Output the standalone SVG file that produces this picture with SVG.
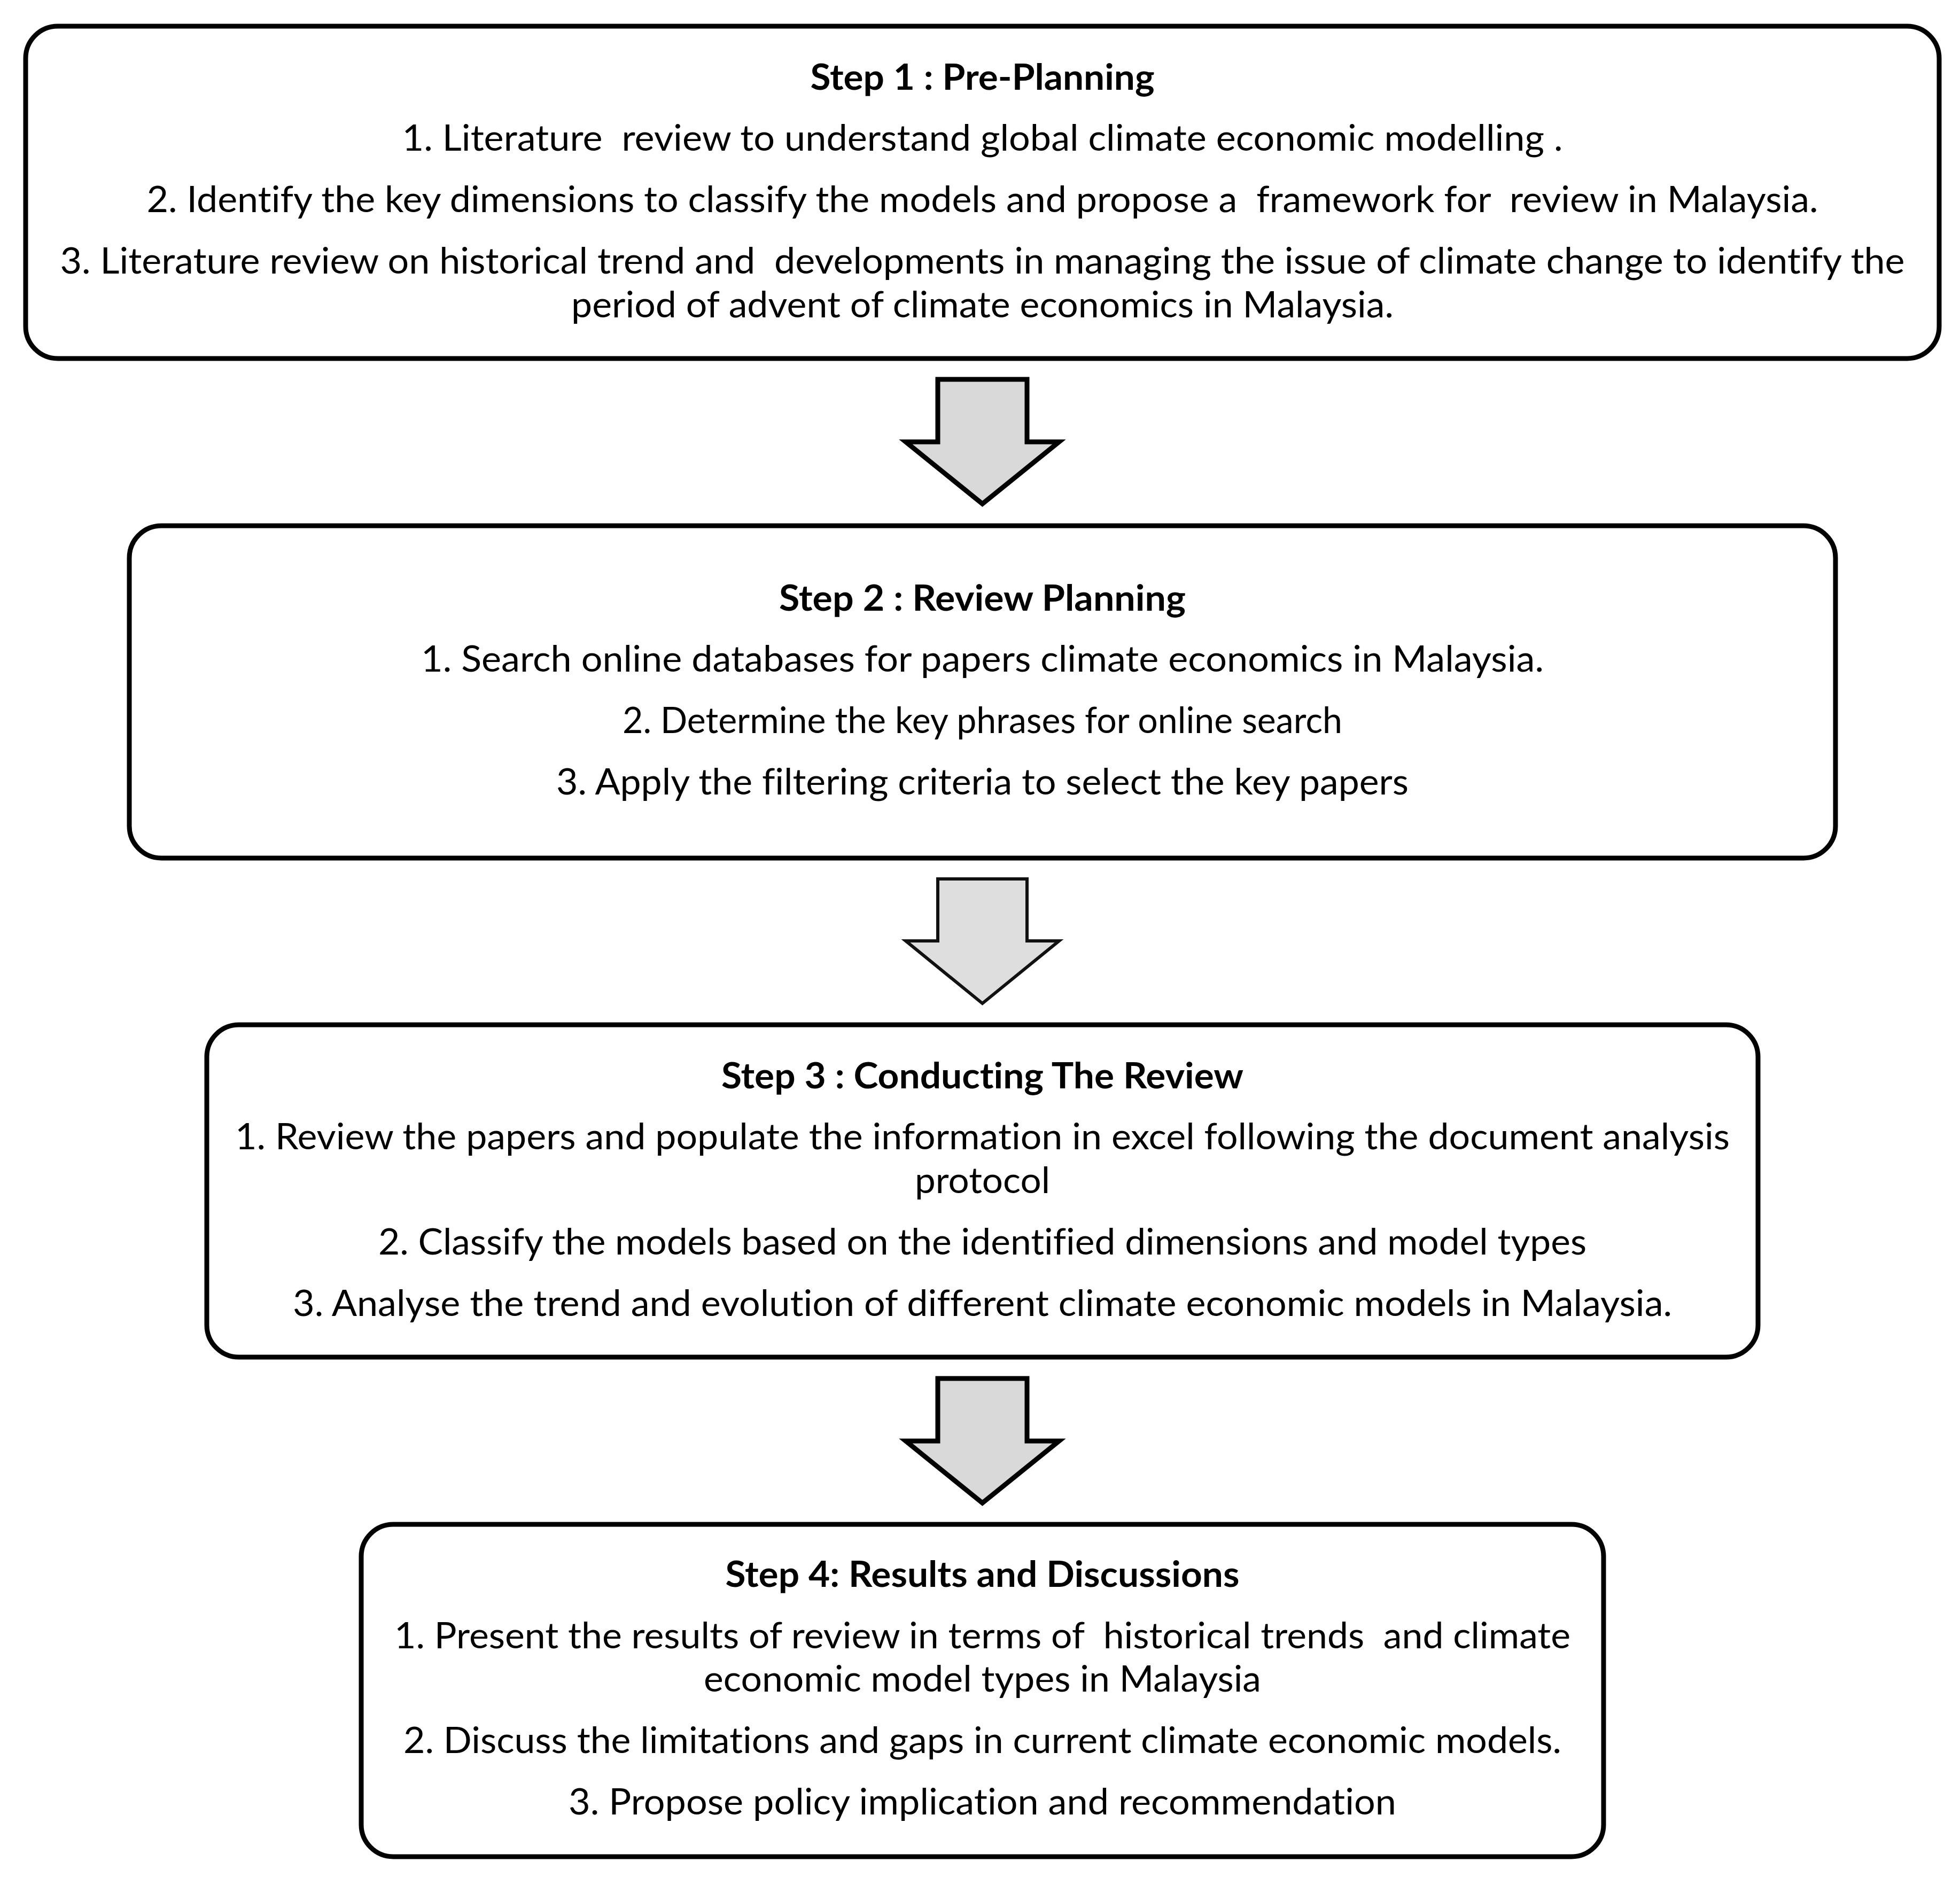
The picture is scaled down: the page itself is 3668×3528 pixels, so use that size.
<svg xmlns="http://www.w3.org/2000/svg" width="3668" height="3528" viewBox="0 0 3668 3528">
<style>
.box{fill:#fff;stroke:#000;stroke-width:9}
.arr{fill:#d9d9d9;stroke:#000;stroke-width:9;stroke-linejoin:miter}
.arr2{fill:#dedede;stroke:#111;stroke-width:6;stroke-linejoin:miter}
text{font-family:Lato,"Liberation Sans",sans-serif;font-size:67px;fill:#000;text-anchor:middle;white-space:pre;font-variant-ligatures:none}
.h{font-weight:bold}
</style>
<rect width="3668" height="3528" fill="#fff"/>
<g id="connectors">
<polygon class="arr" points="1755,710 1922,710 1922,827 1982,827 1838.5,943 1695,827 1755,827"/>
<polygon class="arr2" points="1755,1645 1922,1645 1922,1761 1982,1761 1838.5,1878 1695,1761 1755,1761"/>
<polygon class="arr" points="1755,2580 1922,2580 1922,2697 1982,2697 1838.5,2813 1695,2697 1755,2697"/>
</g>
<g id="step1">
<rect class="box" x="48" y="49" width="3581" height="622" rx="60" ry="60"/>
<text class="h" x="1838.5" y="168" textLength="644" lengthAdjust="spacingAndGlyphs">Step 1 : Pre-Planning</text>
<text x="1838.5" y="282" textLength="2172" lengthAdjust="spacingAndGlyphs" xml:space="preserve">1. Literature  review to understand global climate economic modelling .</text>
<text x="1838.5" y="397" textLength="3128" lengthAdjust="spacingAndGlyphs" xml:space="preserve">2. Identify the key dimensions to classify the models and propose a  framework for  review in Malaysia.</text>
<text x="1838.5" y="512" textLength="3452" lengthAdjust="spacingAndGlyphs" xml:space="preserve">3. Literature review on historical trend and  developments in managing the issue of climate change to identify the</text>
<text x="1838.5" y="594" textLength="1539" lengthAdjust="spacingAndGlyphs">period of advent of climate economics in Malaysia.</text>
</g>
<g id="step2">
<rect class="box" x="242" y="984" width="3193" height="622" rx="60" ry="60"/>
<text class="h" x="1838.5" y="1143" textLength="761" lengthAdjust="spacingAndGlyphs">Step 2 : Review Planning</text>
<text x="1838.5" y="1257" textLength="2101" lengthAdjust="spacingAndGlyphs">1. Search online databases for papers climate economics in Malaysia.</text>
<text x="1838.5" y="1372" textLength="1347" lengthAdjust="spacingAndGlyphs">2. Determine the key phrases for online search</text>
<text x="1838.5" y="1487" textLength="1595" lengthAdjust="spacingAndGlyphs">3. Apply the filtering criteria to select the key papers</text>
</g>
<g id="step3">
<rect class="box" x="387" y="1918" width="2903" height="622" rx="60" ry="60"/>
<text class="h" x="1838.5" y="2037" textLength="977" lengthAdjust="spacingAndGlyphs">Step 3 : Conducting The Review</text>
<text x="1838.5" y="2151" textLength="2797" lengthAdjust="spacingAndGlyphs">1. Review the papers and populate the information in excel following the document analysis</text>
<text x="1838.5" y="2233" textLength="253" lengthAdjust="spacingAndGlyphs">protocol</text>
<text x="1838.5" y="2348" textLength="2261" lengthAdjust="spacingAndGlyphs">2. Classify the models based on the identified dimensions and model types</text>
<text x="1838.5" y="2463" textLength="2581" lengthAdjust="spacingAndGlyphs">3. Analyse the trend and evolution of different climate economic models in Malaysia.</text>
</g>
<g id="step4">
<rect class="box" x="676" y="2853" width="2325" height="622" rx="60" ry="60"/>
<text class="h" x="1838.5" y="2970" textLength="962" lengthAdjust="spacingAndGlyphs">Step 4: Results and Discussions</text>
<text x="1838.5" y="3085" textLength="2201" lengthAdjust="spacingAndGlyphs" xml:space="preserve">1. Present the results of review in terms of  historical trends  and climate</text>
<text x="1838.5" y="3166" textLength="1043" lengthAdjust="spacingAndGlyphs">economic model types in Malaysia</text>
<text x="1838.5" y="3281" textLength="2167" lengthAdjust="spacingAndGlyphs">2. Discuss the limitations and gaps in current climate economic models.</text>
<text x="1838.5" y="3396" textLength="1549" lengthAdjust="spacingAndGlyphs">3. Propose policy implication and recommendation</text>
</g>
</svg>
